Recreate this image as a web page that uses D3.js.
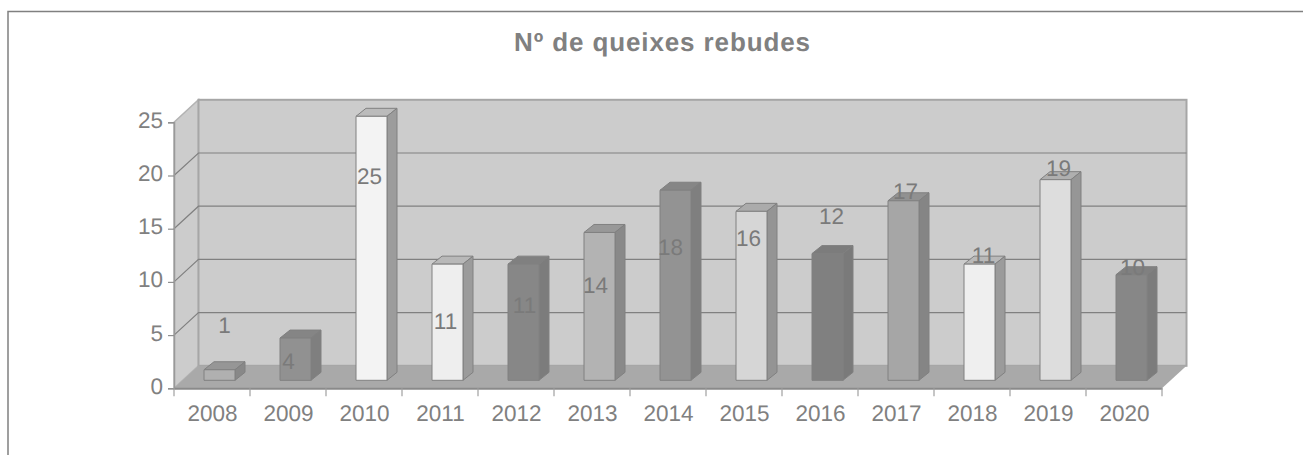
<!DOCTYPE html>
<html>

<head>
	<meta charset="utf-8">
	<title>Nº de queixes rebudes</title>
	<script src="https://cdn.jsdelivr.net/npm/d3@7/dist/d3.min.js"></script>
	<style>
		body {
			margin: 0;
			background: #fff;
		}

		text {
			font-family: "Liberation Sans", Arial, sans-serif;
			fill: #808080;
			text-rendering: geometricPrecision;
		}
	</style>
</head>

<body>
	<svg id="chart" width="1303" height="455"></svg>
	<script>
		var years = ['2008', '2009', '2010', '2011', '2012', '2013', '2014', '2015', '2016', '2017', '2018', '2019', '2020'];
		var queixes = [1, 4, 25, 11, 11, 14, 18, 16, 12, 17, 11, 19, 10];
		var yTicks = [0, 5, 10, 15, 20, 25];

		var labelLevels = [5.2, 1.8, 19.3, 5.6, 7.1, 9.0, 12.6, 13.5, 15.5, 17.9, 11.9, 20.1, 10.7];
		var labelShifts = [5, -7, -2, -2, 1, -4, -5, -3, 4, 2, 4, 3, 1];
		var barFills = ['#b0b0b0', '#919191', '#f3f3f3', '#eeeeee', '#878787', '#b3b3b3', '#939393',
			'#d6d6d6', '#808080', '#a6a6a6', '#efefef', '#dddddd', '#878787'];

		var svg = d3.select('#chart');

		var depthX = 24.5, depthY = 22.5;     // wall depth
		var barDepthX = 10, barDepthY = 8;    // bar depth
		var barWidth = 31;

		var x = d3.scaleBand().domain(years).range([174, 1162]);
		var y = d3.scaleLinear().domain([0, 25]).range([388.3, 122.3]);
		var barY = d3.scaleLinear().domain([0, 25]).range([380.3, 116.3]);

		var left = x.range()[0], right = x.range()[1];
		var poly = pts => pts.map(p => p.join(',')).join(' ');

		// frame
		svg.append('path')
			.attr('d', 'M8,455V11.5H1303')
			.attr('fill', 'none')
			.attr('stroke', '#808080')
			.attr('stroke-width', 1.5);

		svg.append('text')
			.attr('x', 514)
			.attr('y', 51)
			.attr('font-size', 26)
			.attr('font-weight', 'bold')
			.attr('textLength', 296)
			.attr('lengthAdjust', 'spacing')
			.text('Nº de queixes rebudes');

		// walls and floor
		svg.append('polygon')
			.attr('points', poly([[left, y(25)], [left + depthX, y(25) - depthY], [left + depthX, y(0) - depthY], [left, y(0)]]))
			.attr('fill', '#cccccc')
			.attr('stroke', '#b3b3b3')
			.attr('stroke-width', 1.5);

		svg.append('rect')
			.attr('x', left + depthX)
			.attr('y', y(25) - depthY)
			.attr('width', right - left)
			.attr('height', y(0) - y(25))
			.attr('fill', '#cccccc')
			.attr('stroke', '#a6a6a6')
			.attr('stroke-width', 2);

		svg.append('polygon')
			.attr('points', poly([[left, y(0)], [left + depthX, y(0) - depthY], [right + depthX, y(0) - depthY], [right, y(0)]]))
			.attr('fill', '#a9a9a9');

		// gridlines
		var grid = svg.append('g')
			.attr('fill', 'none')
			.attr('stroke', '#808080')
			.attr('stroke-width', 1.2);

		grid.selectAll('path')
			.data(yTicks.slice(1, 5))
			.enter()
			.append('path')
			.attr('d', d => 'M' + left + ',' + y(d) + 'L' + (left + depthX) + ',' + (y(d) - depthY) + 'H' + (right + depthX));

		// axes
		var yAxis = svg.append('g')
			.attr('transform', 'translate(' + left + ',0)')
			.call(d3.axisLeft(y).tickValues(yTicks).tickSize(6).tickPadding(5));

		var xAxis = svg.append('g')
			.attr('transform', 'translate(0,' + y(0) + ')')
			.call(d3.axisBottom(x).tickSize(0).tickPadding(17));

		xAxis.selectAll('.tick')
			.attr('transform', d => 'translate(' + (x(d) + x.bandwidth() / 2 + 0.5) + ',0)');

		xAxis.selectAll('.tickmark')
			.data(years.concat(['end']))
			.enter()
			.append('line')
			.attr('x1', d => d === 'end' ? right : x(d))
			.attr('x2', d => d === 'end' ? right : x(d))
			.attr('y1', 0)
			.attr('y2', 8)
			.attr('stroke', '#a0a0a0')
			.attr('stroke-width', 1.2);

		yAxis.select('.domain').attr('stroke', '#999999').attr('stroke-width', 1.5);
		xAxis.select('.domain').attr('stroke', '#8a8a8a').attr('stroke-width', 2);
		yAxis.selectAll('.tick line').attr('stroke', '#909090').attr('stroke-width', 1.2);
		yAxis.selectAll('.tick text').attr('dy', '0.22em');
		svg.selectAll('.tick text')
			.attr('font-size', 22.5)
			.attr('font-family', '"Liberation Sans", Arial, sans-serif')
			.style('fill', '#808080');

		// bars, each one front + top + side
		var barLeft = d => x(d) + (x.bandwidth() - barWidth) / 2 + barDepthX - 2.5;

		var bars = svg.append('g')
			.attr('stroke', '#808080')
			.attr('stroke-width', 1)
			.attr('stroke-linejoin', 'round')
			.selectAll('g')
			.data(years)
			.enter()
			.append('g');

		bars.append('polygon')
			.attr('points', (d, i) => {
				var x0 = barLeft(d), x1 = x0 + barWidth, t = barY(queixes[i]);
				return poly([[x0, t], [x0 + barDepthX, t - barDepthY], [x1 + barDepthX, t - barDepthY], [x1, t]]);
			})
			.attr('fill', (d, i) => d3.interpolateRgb(barFills[i], '#777777')(0.45));

		bars.append('polygon')
			.attr('points', (d, i) => {
				var x1 = barLeft(d) + barWidth, t = barY(queixes[i]), b = barY(0);
				return poly([[x1, t], [x1 + barDepthX, t - barDepthY], [x1 + barDepthX, b - barDepthY], [x1, b]]);
			})
			.attr('fill', (d, i) => d3.interpolateRgb(barFills[i], '#777777')(0.7));

		bars.append('rect')
			.attr('x', d => barLeft(d))
			.attr('y', (d, i) => barY(queixes[i]))
			.attr('width', barWidth)
			.attr('height', (d, i) => barY(0) - barY(queixes[i]))
			.attr('fill', (d, i) => barFills[i]);

		// value labels
		svg.append('g')
			.selectAll('text')
			.data(queixes)
			.enter()
			.append('text')
			.attr('x', (d, i) => barLeft(years[i]) + barWidth / 2 + labelShifts[i])
			.attr('y', (d, i) => barY(labelLevels[i]))
			.attr('dy', '0.35em')
			.attr('text-anchor', 'middle')
			.attr('font-size', 22.5)
			.style('fill', '#7a7a7a')
			.text(d => d);
	</script>
</body>

</html>
